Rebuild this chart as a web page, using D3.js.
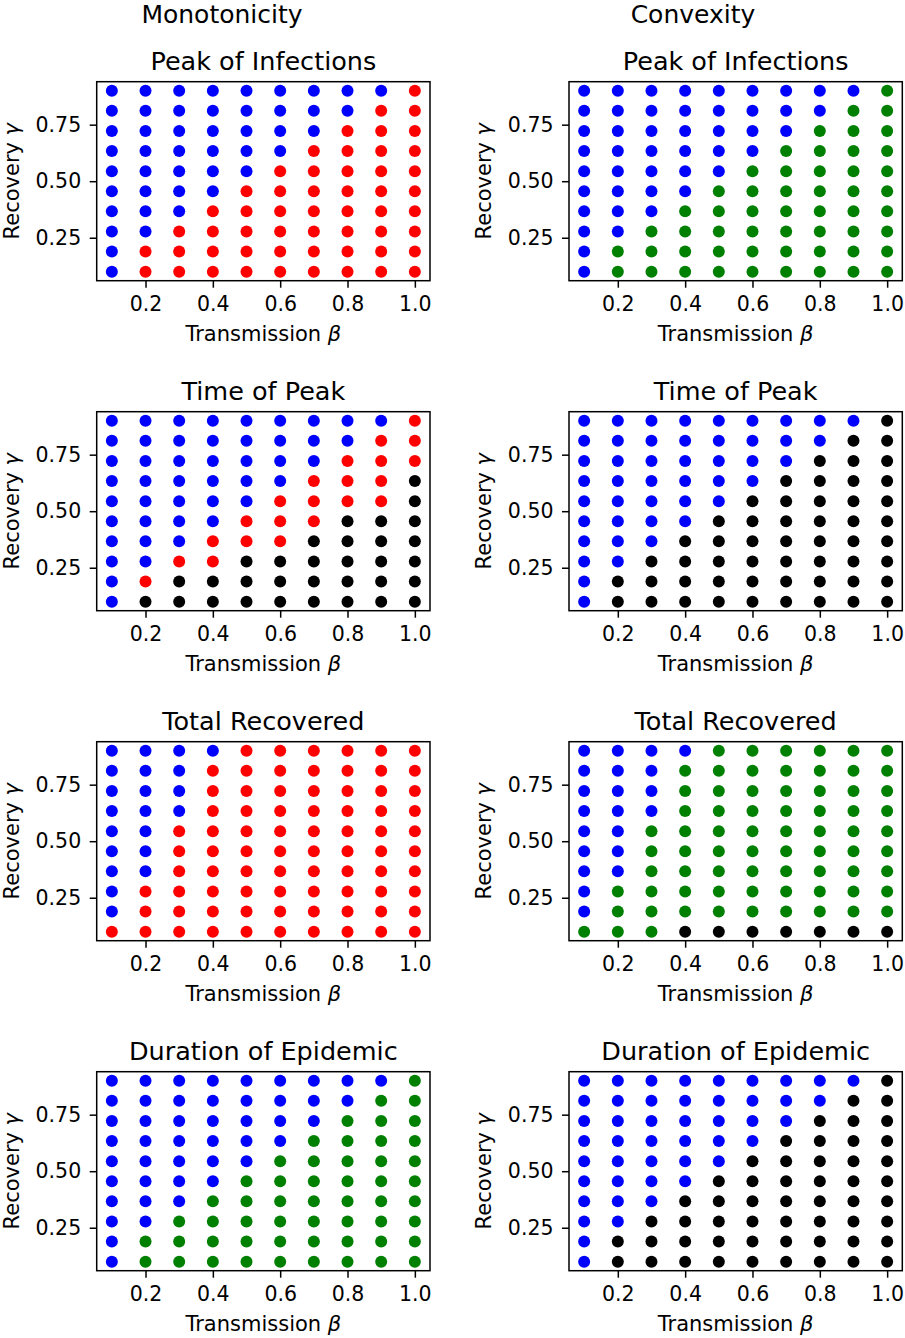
<!DOCTYPE html>
<html>
<head>
<meta charset="utf-8">
<script src="https://cdn.jsdelivr.net/npm/d3@7"></script>
<style>
  html, body { margin: 0; padding: 0; background: #fff; }
  svg { display: block; }
  text { font-family: "DejaVu Sans", sans-serif; fill: #000; }
</style>
</head>
<body>
<svg id="chart" width="905" height="1338"></svg>
<script>
// ---------------- data ----------------
const betaValues = [0.1, 0.2, 0.3, 0.4, 0.5, 0.6, 0.7, 0.8, 0.9, 1.0];
const gammaValues = [0.1, 0.18889, 0.27778, 0.36667, 0.45556, 0.54444, 0.63333, 0.72222, 0.81111, 0.9];
const xTicks = [0.2, 0.4, 0.6, 0.8, 1.0];
const yTicks = [0.25, 0.50, 0.75];
const columnHeaders = ["Monotonicity", "Convexity"];
const rowTitles = ["Peak of Infections", "Time of Peak", "Total Recovered", "Duration of Epidemic"];
const colorCodes = { B: "#0000ff", R: "#ff0000", G: "#008000", K: "#000000" };

// grids: each string is one row, top row = gamma 0.9, bottom row = gamma 0.1; columns = beta 0.1..1.0
const monoPeak = ["BBBBBBBBBR","BBBBBBBBRR","BBBBBBBRRR","BBBBBBRRRR","BBBBBRRRRR","BBBBRRRRRR","BBBRRRRRRR","BBRRRRRRRR","BRRRRRRRRR","BRRRRRRRRR"];
const convPeak = ["BBBBBBBBBG","BBBBBBBBGG","BBBBBBBGGG","BBBBBBGGGG","BBBBBGGGGG","BBBBGGGGGG","BBBGGGGGGG","BBGGGGGGGG","BGGGGGGGGG","BGGGGGGGGG"];
const monoTime = ["BBBBBBBBBR","BBBBBBBBRR","BBBBBBBRRR","BBBBBBRRRK","BBBBBRRRRK","BBBBRRRKKK","BBBRRRKKKK","BBRRKKKKKK","BRKKKKKKKK","BKKKKKKKKK"];
const convTime = ["BBBBBBBBBK","BBBBBBBBKK","BBBBBBBKKK","BBBBBBKKKK","BBBBBKKKKK","BBBBKKKKKK","BBBKKKKKKK","BBKKKKKKKK","BKKKKKKKKK","BKKKKKKKKK"];
const monoTotal = ["BBBBRRRRRR","BBBRRRRRRR","BBBRRRRRRR","BBBRRRRRRR","BBRRRRRRRR","BBRRRRRRRR","BBRRRRRRRR","BRRRRRRRRR","BRRRRRRRRR","RRRRRRRRRR"];
const convTotal = ["BBBBGGGGGG","BBBGGGGGGG","BBBGGGGGGG","BBBGGGGGGG","BBGGGGGGGG","BBGGGGGGGG","BBGGGGGGGG","BGGGGGGGGG","BGGGGGGGGG","GGGKKKKKKK"];
const monoDuration = ["BBBBBBBBBG","BBBBBBBBGG","BBBBBBBGGG","BBBBBBGGGG","BBBBBGGGGG","BBBBGGGGGG","BBBGGGGGGG","BBGGGGGGGG","BGGGGGGGGG","BGGGGGGGGG"];
const convDuration = ["BBBBBBBBBK","BBBBBBBBKK","BBBBBBBKKK","BBBBBBKKKK","BBBBBKKKKK","BBBBKKKKKK","BBBKKKKKKK","BBKKKKKKKK","BKKKKKKKKK","BKKKKKKKKK"];

const grids = [
  [monoPeak, convPeak],
  [monoTime, convTime],
  [monoTotal, convTotal],
  [monoDuration, convDuration]
];

// ---------------- layout ----------------
const svg = d3.select("#chart");
const plotW = 333.3, plotH = 199;
const colLeft = [96.7, 569];
const rowTop = [81.7, 411.7, 741.7, 1071.7];
const tickFont = 20.5, labelFont = 21, titleFont = 25.5, headerFont = 25;

const x = d3.scaleLinear().domain([0.055, 1.045]).range([0, plotW]);
const y = d3.scaleLinear().domain([0.06, 0.94]).range([plotH, 0]);

// column headers
const headerX = [222, 693];
columnHeaders.forEach((h, c) => {
  svg.append("text")
    .attr("x", headerX[c]).attr("y", 23)
    .attr("text-anchor", "middle")
    .style("font-size", headerFont + "px")
    .text(h);
});

grids.forEach((row, r) => {
  row.forEach((grid, c) => {
    const g = svg.append("g").attr("transform", `translate(${colLeft[c]},${rowTop[r]})`);

    // points
    const pts = [];
    grid.forEach((line, i) => {
      const gamma = gammaValues[gammaValues.length - 1 - i];
      line.split("").forEach((code, j) => {
        pts.push({ beta: betaValues[j], gamma: gamma, color: colorCodes[code] });
      });
    });
    g.selectAll("circle").data(pts).enter().append("circle")
      .attr("cx", d => x(d.beta))
      .attr("cy", d => y(d.gamma))
      .attr("r", 6)
      .attr("fill", d => d.color);

    // axes
    const xa = g.append("g").attr("transform", `translate(0,${plotH})`)
      .call(d3.axisBottom(x).tickValues(xTicks).tickFormat(d3.format(".1f")).tickSize(7).tickPadding(9));
    const ya = g.append("g")
      .call(d3.axisLeft(y).tickValues(yTicks).tickFormat(d3.format(".2f")).tickSize(7).tickPadding(8.5));
    [xa, ya].forEach(a => {
      a.select(".domain").remove();
      a.selectAll(".tick line").attr("stroke", "#000").attr("stroke-width", 1.5);
      a.selectAll(".tick text").style("font-size", tickFont + "px").style("font-family", "DejaVu Sans, sans-serif").attr("fill", "#000");
    });

    // frame
    g.append("rect")
      .attr("x", 0).attr("y", 0).attr("width", plotW).attr("height", plotH)
      .attr("fill", "none").attr("stroke", "#000").attr("stroke-width", 1.5);

    // title
    g.append("text")
      .attr("x", plotW / 2).attr("y", -12)
      .attr("text-anchor", "middle")
      .style("font-size", titleFont + "px")
      .text(rowTitles[r]);

    // x label
    const xl = g.append("text")
      .attr("x", plotW / 2).attr("y", plotH + 60)
      .attr("text-anchor", "middle")
      .style("font-size", labelFont + "px");
    xl.append("tspan").text("Transmission ");
    xl.append("tspan").style("font-style", "italic").text("β");

    // y label
    const yl = g.append("text")
      .attr("transform", `translate(-78,${plotH / 2}) rotate(-90)`)
      .attr("text-anchor", "middle")
      .style("font-size", labelFont + "px");
    yl.append("tspan").text("Recovery ");
    yl.append("tspan").style("font-style", "italic").text("γ");
  });
});
</script>
</body>
</html>
